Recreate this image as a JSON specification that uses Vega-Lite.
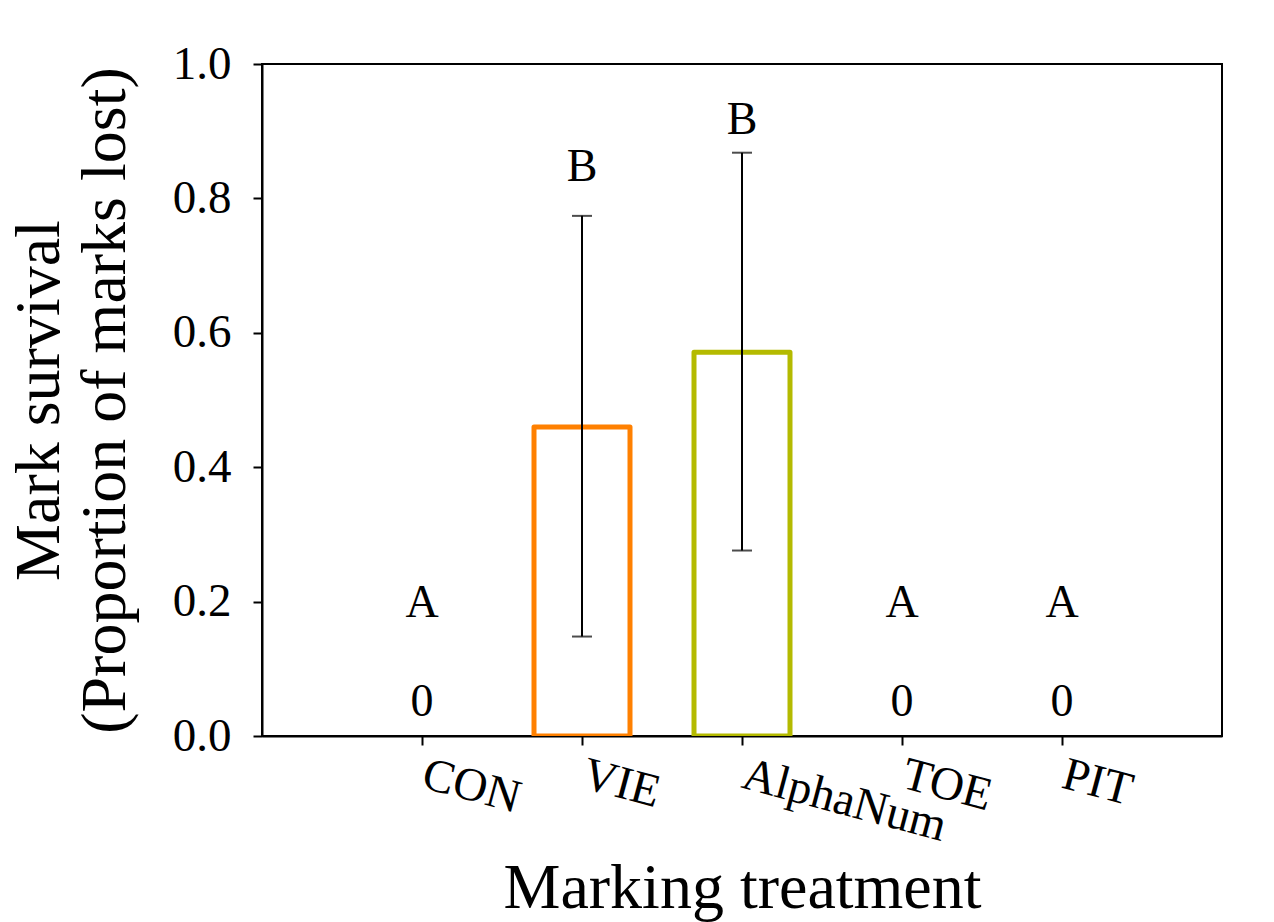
{
  "$schema": "https://vega.github.io/schema/vega-lite/v6.json",
  "width": 960,
  "height": 672,
  "autosize": {"type": "none"},
  "padding": {"left": 262, "top": 64, "right": 52, "bottom": 186},
  "background": "white",
  "config": {
    "font": "Liberation Serif",
    "view": {"stroke": "black", "strokeWidth": 2},
    "axis": {
      "grid": false,
      "domainColor": "black",
      "domainWidth": 2,
      "tickColor": "black",
      "tickWidth": 2,
      "tickSize": 9,
      "labelColor": "black",
      "titleColor": "black",
      "labelFont": "Liberation Serif",
      "titleFont": "Liberation Serif",
      "labelFontSize": 47,
      "titleFontSize": 64,
      "titleFontWeight": "normal",
      "labelLimit": 1000,
      "zindex": 1
    }
  },
  "datasets": {
    "bars": [
      {"treatment": "VIE", "value": 0.46},
      {"treatment": "AlphaNum", "value": 0.571}
    ],
    "errs": [
      {"treatment": "VIE", "lo": 0.148, "hi": 0.774},
      {"treatment": "AlphaNum", "lo": 0.276, "hi": 0.868}
    ],
    "letters": [
      {"treatment": "CON", "label": "A", "pos": 0.198},
      {"treatment": "CON", "label": "0", "pos": 0.05},
      {"treatment": "VIE", "label": "B", "pos": 0.846},
      {"treatment": "AlphaNum", "label": "B", "pos": 0.916},
      {"treatment": "TOE", "label": "A", "pos": 0.198},
      {"treatment": "TOE", "label": "0", "pos": 0.05},
      {"treatment": "PIT", "label": "A", "pos": 0.198},
      {"treatment": "PIT", "label": "0", "pos": 0.05}
    ]
  },
  "encoding": {
    "x": {
      "field": "treatment",
      "type": "nominal",
      "scale": {"type": "point", "padding": 1, "domain": ["CON", "VIE", "AlphaNum", "TOE", "PIT"]},
      "axis": {
        "title": "Marking treatment",
        "labelAngle": 15,
        "labelAlign": "left",
        "labelBaseline": "top",
        "labelPadding": 6,
        "labelOffset": 7,
        "labelOverlap": false,
        "labelBound": false,
        "titlePadding": 7
      }
    }
  },
  "layer": [
    {
      "data": {"name": "bars"},
      "mark": {"type": "bar", "width": 96, "fill": "white", "fillOpacity": 0, "strokeWidth": 5, "strokeJoin": "round", "clip": true},
      "encoding": {
        "y": {
          "field": "value",
          "type": "quantitative",
          "scale": {"domain": [0, 1], "nice": false, "zero": true},
          "axis": {
            "title": ["Mark survival", "(Proportion of marks lost)"],
            "values": [0, 0.2, 0.4, 0.6, 0.8, 1.0],
            "format": ".1f",
            "labelPadding": 22,
            "titlePadding": 35,
            "titleLineHeight": 66
          }
        },
        "stroke": {
          "field": "treatment",
          "type": "nominal",
          "scale": {"domain": ["VIE", "AlphaNum"], "range": ["#FF8000", "#B4BA00"]},
          "legend": null
        }
      }
    },
    {
      "data": {"name": "errs"},
      "mark": {"type": "rule", "color": "black", "strokeWidth": 2},
      "encoding": {
        "y": {"field": "lo", "type": "quantitative"},
        "y2": {"field": "hi"}
      }
    },
    {
      "data": {"name": "errs"},
      "mark": {"type": "tick", "orient": "horizontal", "color": "black", "size": 20, "thickness": 2},
      "encoding": {
        "y": {"field": "hi", "type": "quantitative"}
      }
    },
    {
      "data": {"name": "errs"},
      "mark": {"type": "tick", "orient": "horizontal", "color": "black", "size": 20, "thickness": 2},
      "encoding": {
        "y": {"field": "lo", "type": "quantitative"}
      }
    },
    {
      "data": {"name": "letters"},
      "mark": {"type": "text", "fontSize": 46, "baseline": "middle", "align": "center", "color": "black", "font": "Liberation Serif"},
      "encoding": {
        "y": {"field": "pos", "type": "quantitative"},
        "text": {"field": "label"}
      }
    }
  ]
}
